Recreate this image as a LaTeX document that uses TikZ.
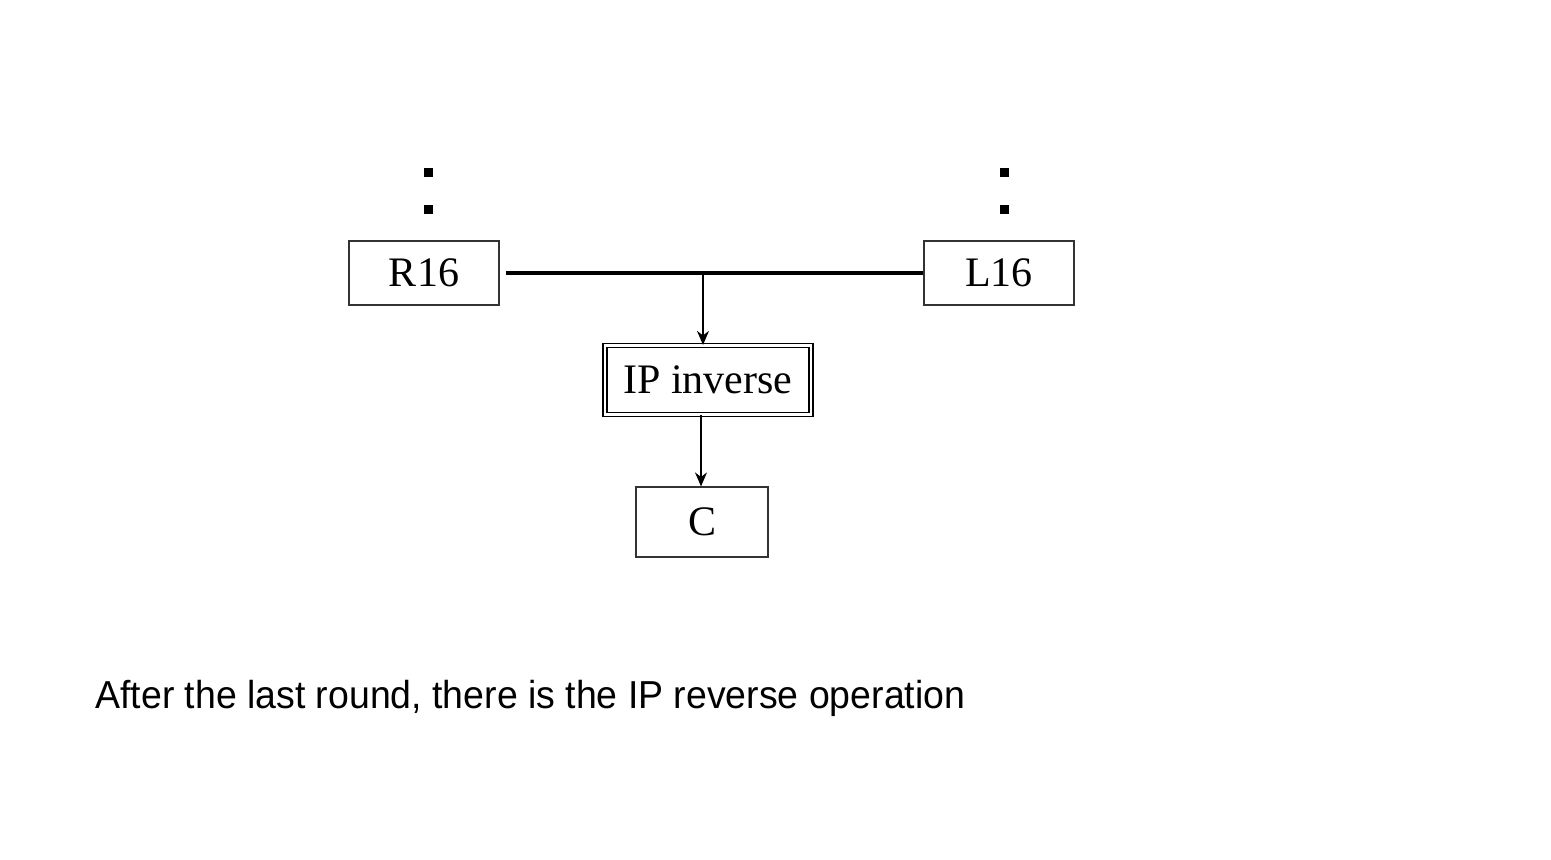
\documentclass[tikz,border=0pt]{standalone}
\usepackage{fontspec}
\setmainfont{Liberation Serif}
\newfontfamily\notefont{Liberation Sans}[FakeStretch=0.96]
\usetikzlibrary{positioning,arrows.meta}

\begin{document}
\begin{tikzpicture}[%
    x=0.5pt, y=-0.5pt,
    >={Stealth[length=7pt,width=6pt]},
    roundbox/.style={
        draw=black!80,
        line width=0.6pt,
        minimum width=75pt,
        minimum height=32pt,
        inner sep=0pt,
        font=\fontsize{21}{24}\selectfont
        },
    ipbox/.style={
        roundbox,
        draw=black,
        double,
        double distance=1.4pt,
        minimum width=103pt,
        minimum height=34.5pt
        },
    dotmark/.style={
        fill=black,
        minimum size=4.5pt,
        inner sep=0pt
        },
    caption/.style={
        font=\notefont\fontsize{19.5}{22}\selectfont,
        anchor=base west,
        inner sep=0pt
        }
]
\useasboundingbox (0,0) rectangle (1551,860);

\node[roundbox] (r16) at (424,273) {R16};
\node[roundbox] (l16) at (999,273) {L16};

% dots above the rounds
\node[dotmark] (rdot1) at (428,173) {};
\node[dotmark] (rdot2) at (428,210) {};
\node[dotmark] (ldot1) at (1004,173) {};
\node[dotmark] (ldot2) at (1004,210) {};

\node[ipbox] (ipinv) at (708,380) {IP inverse};
\node[roundbox, minimum width=66pt, minimum height=35pt] (c) at (702,522) {C};

\coordinate (join) at (ipinv.north |- r16.east);
\draw[line width=1.8pt] ([xshift=3pt]r16.east) -- (l16.west);
\draw[->, line width=0.6pt] ([xshift=-2.5pt]join) -- ([xshift=-2.5pt]ipinv.north);
\draw[->, line width=0.6pt] ([xshift=-3.5pt]ipinv.south) -- ([xshift=-3.5pt]ipinv.south |- c.north);

\node[caption] (note) at (95,708) {After the last round, there is the IP reverse operation};

\end{tikzpicture}
\end{document}
